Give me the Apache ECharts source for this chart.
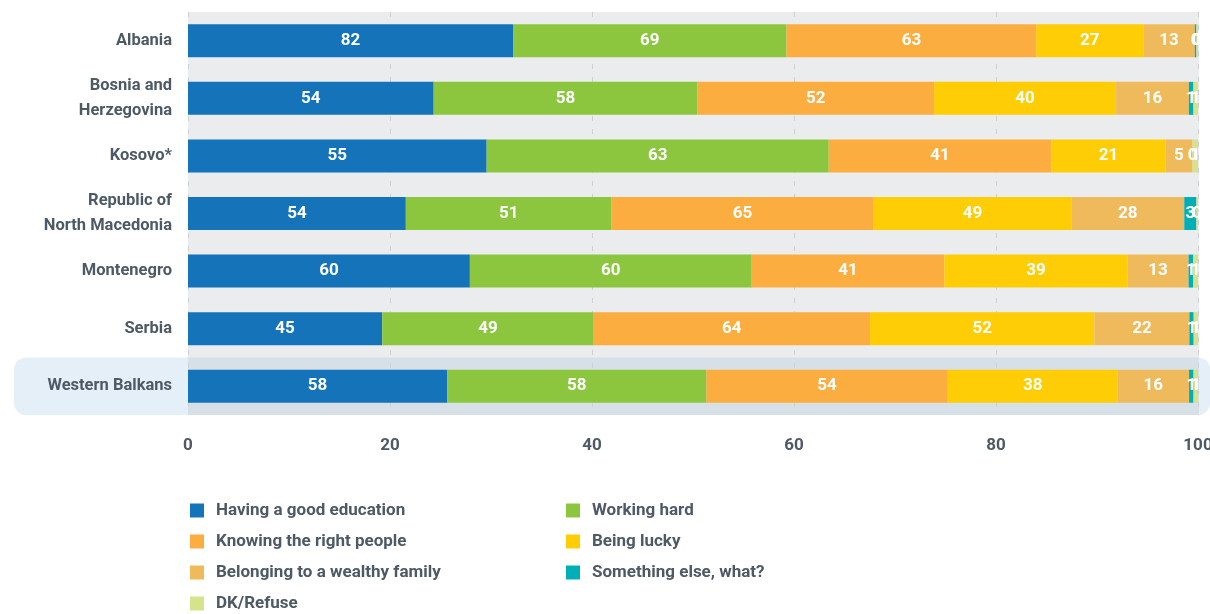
<!DOCTYPE html>
<html><head><meta charset="utf-8">
<script src="https://cdn.jsdelivr.net/npm/echarts@6/dist/echarts.min.js"></script>
<style>html,body{margin:0;padding:0;background:#fff}#c{width:1210px;height:614px}</style>
</head><body><div id="c"></div>
<script>
// ---- data ----
const categories = ['Albania', 'Bosnia and\nHerzegovina', 'Kosovo*', 'Republic of\nNorth Macedonia', 'Montenegro', 'Serbia', 'Western Balkans'];
const seriesNames = ['Having a good education', 'Working hard', 'Knowing the right people', 'Being lucky', 'Belonging to a wealthy family', 'Something else, what?', 'DK/Refuse'];
const education     = [82, 54, 55, 54, 60, 45, 58];
const workingHard   = [69, 58, 63, 51, 60, 49, 58];
const rightPeople   = [63, 52, 41, 65, 41, 64, 54];
const beingLucky    = [27, 40, 21, 49, 39, 52, 38];
const wealthyFamily = [13, 16, 5, 28, 13, 22, 16];
const somethingElse = [0.4, 1, 0, 3, 1, 1, 1];
const dkRefuse      = [0.4, 1, 1, 0.4, 1, 1, 1];
const xTicks = [0, 20, 40, 60, 80, 100];

// ---- styles ----
const colors = ['#1473b9', '#8cc63f', '#fbad3f', '#ffcd05', '#efba5c', '#00aeb8', '#d5e48b'];
const FONT = "Roboto, 'Liberation Sans', sans-serif";
const TXT = '#4d5965';
const G = { left: 188, right: 12, top: 12, bottom: 199 };

const raw = [education, workingHard, rightPeople, beingLucky, wealthyFamily, somethingElse, dkRefuse];
const totals = categories.map((_, i) => raw.reduce((s, arr) => s + arr[i], 0));

const chart = echarts.init(document.getElementById('c'), null, { renderer: 'canvas' });

const W = 1210, H = 614;
const gw = W - G.left - G.right, gh = H - G.top - G.bottom;
const band = gh / categories.length;
const wbTop = G.top + band * (categories.length - 1);

chart.setOption({
  animation: false,
  textStyle: { fontFamily: FONT },
  grid: { left: G.left, right: G.right, top: G.top, bottom: G.bottom, containLabel: false, outerBoundsMode: 'none' },
  graphic: [
    { type: 'rect', z: -10, shape: { x: G.left, y: G.top, width: gw + 1, height: gh }, style: { fill: '#ebecee' } },
    { type: 'rect', z: -10, shape: { x: 14, y: wbTop, width: W - 14, height: band, r: 12 }, style: { fill: '#e4eff7' } },
    { type: 'rect', z: -10, shape: { x: G.left, y: wbTop, width: gw + 1, height: band }, style: { fill: '#d7e0e7' } }
  ],
  xAxis: {
    type: 'value', min: xTicks[0], max: xTicks[xTicks.length - 1], interval: 20, z: 1,
    axisLine: { show: false }, axisTick: { show: false },
    splitLine: { show: true, lineStyle: { color: '#cdd0d4', width: 1, type: [5, 8] } },
    axisLabel: { margin: 22, fontSize: 17, fontWeight: 'bold', color: TXT, fontFamily: FONT }
  },
  yAxis: {
    type: 'category', data: categories, inverse: true, z: 1,
    axisLine: { show: false }, axisTick: { show: false }, splitLine: { show: false },
    axisLabel: { margin: 16, fontSize: 16.5, fontWeight: 'bold', color: TXT, lineHeight: 25, align: 'right', fontFamily: FONT }
  },
  legend: {
    left: 190, top: 500, width: 760, padding: 0,
    itemWidth: 14, itemHeight: 14, itemGap: 10, icon: 'rect', selectedMode: false,
    data: seriesNames,
    textStyle: { fontSize: 17, fontWeight: 'bold', color: TXT, width: 340, lineHeight: 21, padding: [0, 0, 0, 7], fontFamily: FONT }
  },
  series: raw.map((arr, si) => ({
    name: seriesNames[si],
    type: 'bar',
    stack: 'total',
    barWidth: 33,
    itemStyle: { color: colors[si] },
    label: {
      show: true, position: 'inside', color: '#fff', fontSize: 17, fontWeight: 'bold', fontFamily: FONT,
      formatter: p => String(Math.round(raw[p.seriesIndex][p.dataIndex]))
    },
    data: arr.map((v, i) => v / totals[i] * 100)
  }))
});
</script></body></html>
